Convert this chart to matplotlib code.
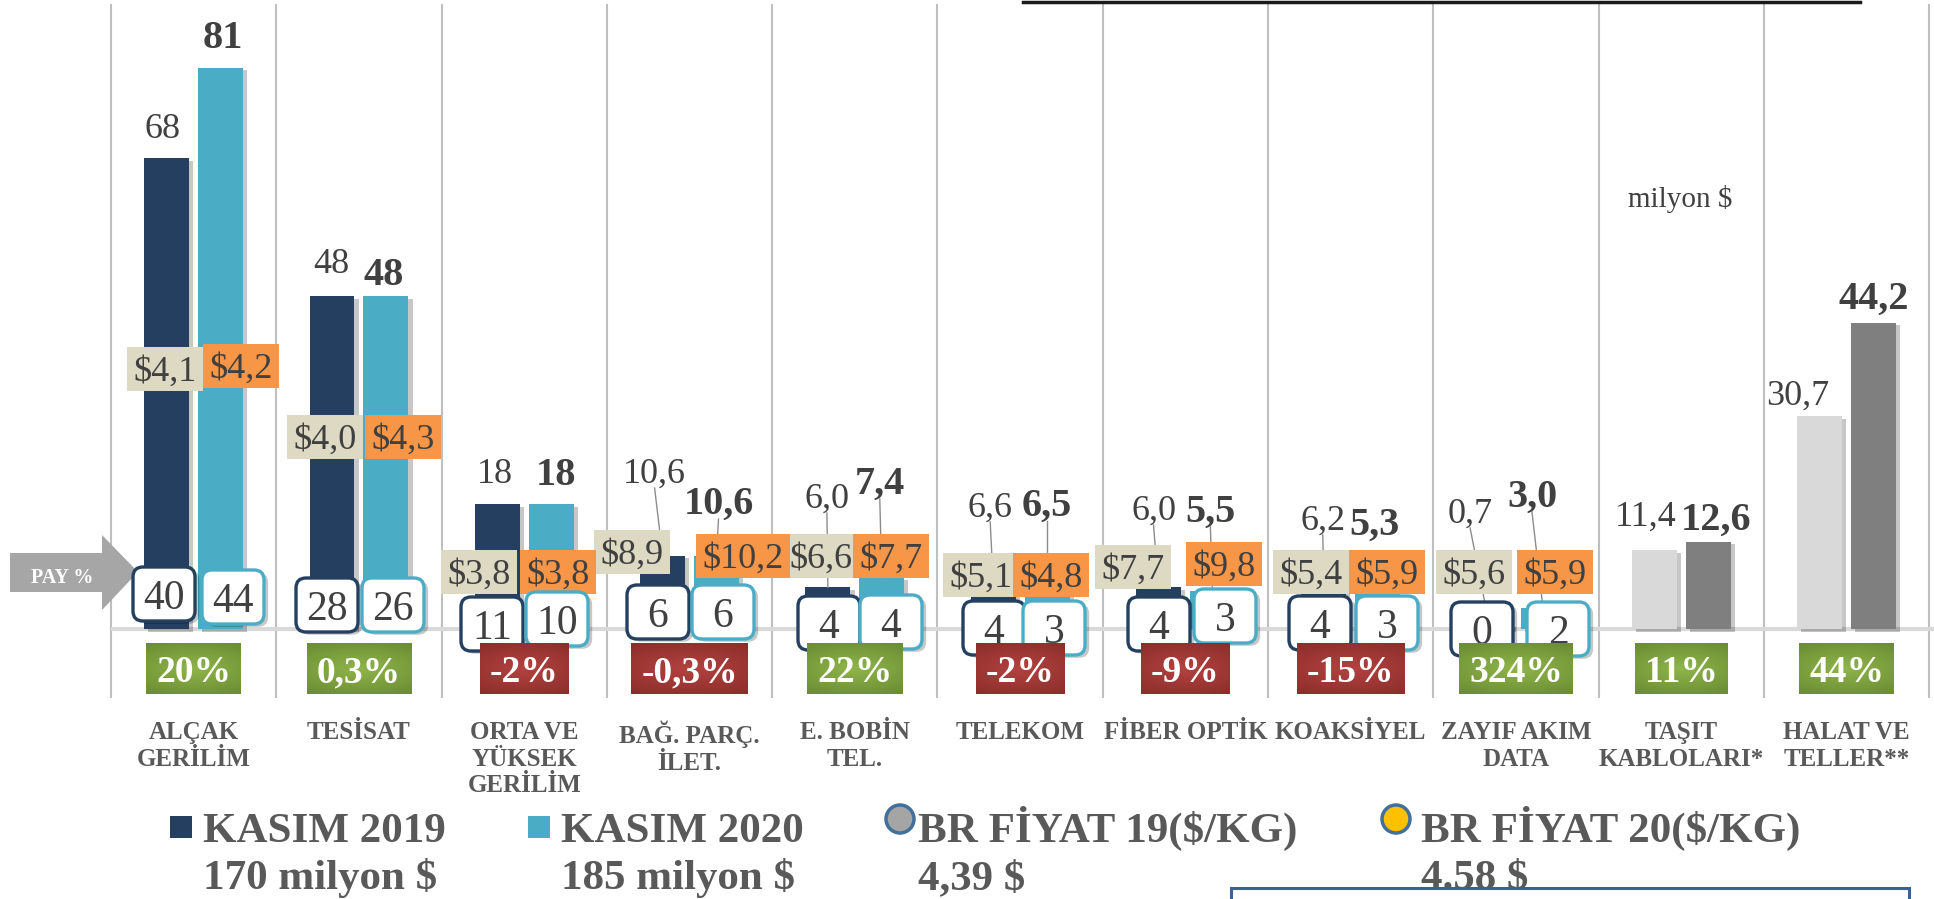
import numpy as np
import matplotlib
matplotlib.use("Agg")
import matplotlib.pyplot as plt
import matplotlib.patheffects as pe
from matplotlib.patches import FancyBboxPatch, Rectangle, Polygon, Circle

plt.rcParams['font.family'] = ['Liberation Serif', 'DejaVu Serif']

# Veri
categories = ["ALÇAK\nGERİLİM", "TESİSAT", "ORTA VE\nYÜKSEK\nGERİLİM", "BAĞ. PARÇ.\nİLET.",
              "E. BOBİN\nTEL.", "TELEKOM", "FİBER OPTİK", "KOAKSİYEL",
              "ZAYIF AKIM\nDATA", "TAŞIT\nKABLOLARI*", "HALAT VE\nTELLER**"]
kasim_2019 = [68, 48, 18, 10.6, 6.0, 6.6, 6.0, 6.2, 0.7, 11.4, 30.7]
kasim_2020 = [81, 48, 18, 10.6, 7.4, 6.5, 5.5, 5.3, 3.0, 12.6, 44.2]
degisim = ["20%", "0,3%", "-2%", "-0,3%", "22%", "-2%", "-9%", "-15%", "324%", "11%", "44%"]
pay_2019 = [40, 28, 11, 6, 4, 4, 4, 4, 0]
pay_2020 = [44, 26, 10, 6, 4, 3, 3, 3, 2]
fiyat_2019 = [4.1, 4.0, 3.8, 8.9, 6.6, 5.1, 7.7, 5.4, 5.6]
fiyat_2020 = [4.2, 4.3, 3.8, 10.2, 7.7, 4.8, 9.8, 5.9, 5.9]
decimals = [0, 0, 0, 1, 1, 1, 1, 1, 1, 1, 1]

# Yerlesim (piksel)
lab19_dx = [-4, -1, -2, -8, -1, -3, -5, -1, -19, -9, -22]
lab19_base = [138, 273, 483, 483, 508, 517, 520, 530, 523, 526, 405]
lab20_dx = [2, -2, 5, 2, -2, 0, -2, -3, -11, 8, 0]
lab20_base = [48, 285, 485, 514, 494, 516, 522, 535, 507, 530, 309]
leader19 = [0, 0, 0, 1, 1, 1, 1, 1, 1, 0, 0]
leader20 = [0, 0, 0, 1, 1, 1, 1, 0, 1, 0, 0]
p19_x = [165, 325, 479, 632, 821, 981, 1133, 1311, 1474]
p19_y = [369, 437, 572, 552, 556, 575, 567, 572, 572]
p20_x = [241, 403, 558, 743, 891, 1051, 1224, 1387, 1555]
p20_y = [366, 437, 572, 556, 556, 575, 564, 572, 572]
s19_x = [164, 327, 492, 658, 829, 994, 1159, 1320, 1482]
s19_y = [594, 605, 624, 612, 623, 628, 624, 623, 629]
s20_x = [233, 393, 557, 723, 891, 1054, 1225, 1387, 1558]
s20_y = [597, 605, 619, 612, 622, 628, 616, 623, 629]

NAVY, BLUE = '#243F60', '#4BACC6'
LGRAY, DGRAY = '#D9D9D9', '#7F7F7F'
BEIGE, ORANGE = '#DDD9C3', '#F79646'
TXT, LBL = '#404040', '#595959'

X0, CW, Y0, YS = 111, 165.3, 629, 6.93
BW, OFF = 0.272, 0.163

fig = plt.figure(figsize=(19.34, 8.99), dpi=100)
ax = fig.add_axes([0, 0, 1, 1])
ov = fig.add_axes([0, 0, 1, 1], zorder=2)
ax.set_xlim(-0.5 - X0 / CW, -0.5 + (1934 - X0) / CW)
ax.set_ylim(-(899 - Y0) / YS, Y0 / YS)
ax.axis('off')
ov.set_xlim(0, 1934)
ov.set_ylim(899, 0)
ov.axis('off')
ov.patch.set_visible(False)
renderer = fig.canvas.get_renderer()


def px(x, v):
    return ov.transData.inverted().transform(ax.transData.transform((x, v)))


def fmt(v, d):
    return f"{v:.{d}f}".replace('.', ',')


x = np.arange(len(categories))
shadow = [pe.SimplePatchShadow(offset=(3, -2), shadow_rgbFace='k', alpha=0.22), pe.Normal()]

# izgara ve taban cizgisi
ax.vlines(np.arange(12) - 0.5, (Y0 - 698) / YS, (Y0 - 4) / YS, color='#BFBFBF', lw=1.5, zorder=1)
ax.hlines(0, -0.5, 11, color='#D9D9D9', lw=3, zorder=1)

c19 = [NAVY] * 9 + [LGRAY] * 2
c20 = [BLUE] * 9 + [DGRAY] * 2
b19 = ax.bar(x - OFF, kasim_2019, BW, color=c19, zorder=3)
b20 = ax.bar(x + OFF, kasim_2020, BW, color=c20, zorder=3)
for b in list(b19) + list(b20):
    b.set_path_effects(shadow)

# deger etiketleri
for i in range(len(categories)):
    bx, top = px(i - OFF, kasim_2019[i])
    lx = bx + lab19_dx[i]
    ov.text(lx, lab19_base[i], fmt(kasim_2019[i], decimals[i]), ha='center', va='baseline',
            fontsize=26, color=TXT, zorder=4)
    if leader19[i]:
        ov.plot([lx, bx], [lab19_base[i] + 5, top], color='#8C8C8C', lw=1, zorder=1)
    bx, top = px(i + OFF, kasim_2020[i])
    lx = bx + lab20_dx[i]
    ov.text(lx, lab20_base[i], fmt(kasim_2020[i], decimals[i]), ha='center', va='baseline',
            fontsize=29, fontweight='bold', color=TXT, zorder=4)
    if leader20[i]:
        ov.plot([lx, bx], [lab20_base[i] + 5, top], color='#8C8C8C', lw=1, zorder=1)

# fiyat kutulari
for vals, xs, ys, fc in [(fiyat_2019, p19_x, p19_y, BEIGE), (fiyat_2020, p20_x, p20_y, ORANGE)]:
    for v, cx, cy in zip(vals, xs, ys):
        t = ov.text(cx, cy + 12, '$' + fmt(v, 1), ha='center', va='baseline',
                    fontsize=26, color=TXT, zorder=3.5)
        w = t.get_window_extent(renderer).width + 12
        ov.add_patch(Rectangle((cx - w / 2, cy - 22), w, 44, fc=fc, ec='none', zorder=3))

# pay kutulari
for vals, xs, ys, ec in [(pay_2019, s19_x, s19_y, NAVY), (pay_2020, s20_x, s20_y, BLUE)]:
    for v, cx, cy in zip(vals, xs, ys):
        box = FancyBboxPatch((cx - 31, cy - 27), 62, 54, boxstyle='round,pad=0,rounding_size=10',
                             fc='white', ec=ec, lw=2.4, zorder=5)
        box.set_path_effects(shadow)
        ov.add_patch(box)
        ov.text(cx, cy + 15, str(v), ha='center', va='baseline', fontsize=30, color=TXT, zorder=5.5)

# degisim kutulari (gradyan)
yy, xx = np.mgrid[-1:1:48j, -1:1:96j]
r = np.clip(np.sqrt(0.5 * xx ** 2 + yy ** 2) / 1.2, 0, 1)[..., None]
green = np.array([0.56, 0.71, 0.29]) * (1 - r) + np.array([0.42, 0.55, 0.20]) * r
red = np.array([0.70, 0.26, 0.25]) * (1 - r) + np.array([0.55, 0.18, 0.17]) * r
for i, s in enumerate(degisim):
    cx = px(i, 0)[0]
    t = ov.text(cx, 682, s, ha='center', va='baseline', fontsize=27, fontweight='bold',
                color='white', zorder=8)
    w = t.get_window_extent(renderer).width + 20
    img = red if s.startswith('-') else green
    ov.imshow(img, extent=(cx - w / 2, cx + w / 2, 694, 643), aspect='auto',
              interpolation='bilinear', zorder=7)

# kategori etiketleri
for i, name in enumerate(categories):
    cx = px(i, 0)[0]
    ov.text(cx, 721, name, ha='center', va='top', fontsize=18, fontweight='bold',
            color=LBL, linespacing=1.2, zorder=4)

# PAY % oku
ov.add_patch(Polygon([(10, 553), (102, 553), (102, 535), (138, 572), (102, 610), (102, 592), (10, 592)],
                     closed=True, fc='#A6A6A6', ec='none', zorder=4))
ov.text(62, 578, 'PAY %', ha='center', va='center', fontsize=14.5, fontweight='bold',
        color='white', zorder=4.5)

ov.text(1680, 207, 'milyon $', ha='center', va='baseline', fontsize=21, color=TXT, zorder=4)

# lejant
ov.add_patch(Rectangle((170, 816), 22, 22, fc=NAVY, ec='none'))
ov.add_patch(Rectangle((528, 816), 22, 22, fc=BLUE, ec='none'))
ov.add_patch(Circle((900, 819), 14, fc='#A5A5A5', ec='#41709C', lw=2.5))
ov.add_patch(Circle((1396, 819), 14, fc='#FFC000', ec='#41709C', lw=2.5))
leg = [(203, "KASIM 2019", "170 milyon $"), (561, "KASIM 2020", "185 milyon $"),
       (918, "BR FİYAT 19($/KG)", "4,39 $"), (1421, "BR FİYAT 20($/KG)", "4.58 $")]
for lx, l1, l2 in leg:
    ov.text(lx, 842, l1, ha='left', va='baseline', fontsize=31, fontweight='bold', color=LBL)
    ov.text(lx, 889, l2, ha='left', va='baseline', fontsize=31, fontweight='bold', color=LBL)

# kenar cizgileri
ov.plot([1023, 1860], [1.5, 1.5], color='#1A1A1A', lw=2.5, zorder=10)
ov.add_patch(Rectangle((1231, 888), 678, 30, fc='white', ec='#3A6190', lw=2.2, zorder=10))

ov.set_xlim(0, 1934)
ov.set_ylim(899, 0)
fig.savefig('out.png', dpi=100, facecolor='white')
